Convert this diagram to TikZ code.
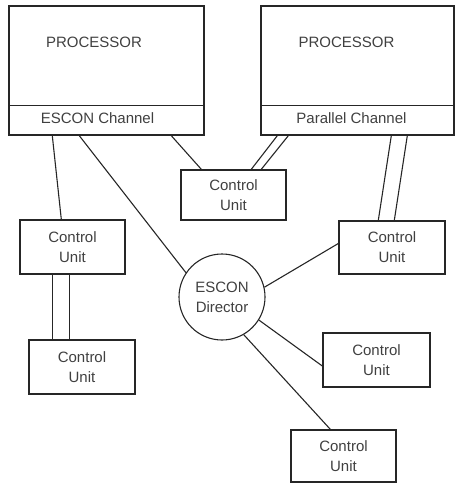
\documentclass[tikz,border=0pt]{standalone}
\usepackage{fontspec}
\setmainfont{Liberation Sans}
\usetikzlibrary{calc}
\begin{document}
\begin{tikzpicture}[x=1pt,y=-1pt,
  box/.style={draw=black!85, line width=1.4pt, inner sep=0pt},
  proc/.style={box, minimum height=129pt},
  cu/.style={box, minimum width=105pt, minimum height=53pt, align=center,
    font=\fontsize{15}{20}\selectfont, text=black!75},
  lbl/.style={font=\fontsize{15}{18}\selectfont, inner sep=0pt, text=black!75},
  link/.style={draw=black!85, line width=1.1pt}]
\useasboundingbox (0,0) rectangle (455,484);
% processors
\node[proc, minimum width=195pt] (P1) at (106.5,70.5) {};
\node[proc, minimum width=193pt] (P2) at (357.5,70.5) {};
\draw[box] ([yshift=30pt]P1.south west) -- ([yshift=30pt]P1.south east);
\draw[box] ([yshift=30pt]P2.south west) -- ([yshift=30pt]P2.south east);
\node[lbl] (P1t) at (94,42) {PROCESSOR};
\node[lbl] (P1c) at (97.5,118) {ESCON Channel};
\node[lbl] (P2t) at (346.5,42) {PROCESSOR};
\node[lbl] (P2c) at (351.5,118) {Parallel Channel};
% control units
\node[cu, minimum height=50pt] (CUc) at (233.5,195) {Control\\Unit};
\node[cu, minimum height=54pt] (CUa) at (72.5,247) {Control\\Unit};
\node[cu, minimum height=54pt, minimum width=106pt] (CUb) at (82,367) {Control\\Unit};
\node[cu, minimum width=106pt] (CUr) at (392,247.5) {Control\\Unit};
\node[cu, minimum height=54pt, minimum width=107pt] (CUm) at (376.5,360) {Control\\Unit};
\node[cu, minimum height=52pt] (CUd) at (343.5,456) {Control\\Unit};
% director
\node[draw=black!85, circle, minimum size=86pt, line width=1.1pt, inner sep=0pt,
  align=center, font=\fontsize{15}{20}\selectfont, text=black!75] (D) at (222,297) {ESCON\\Director};
% links
\draw[link] ([xshift=44pt]P1.south west) -- ([xshift=42pt]CUa.north west);
\draw[link] ([xshift=71pt]P1.south west) -- (D.146);
\draw[link] ([xshift=163pt]P1.south west) -- ([xshift=21pt]CUc.north west);
\draw[link] ([xshift=17pt]P2.south west) -- ([xshift=71pt]CUc.north west);
\draw[link] ([xshift=28pt]P2.south west) -- ([xshift=81pt]CUc.north west);
\draw[link] ([xshift=131pt]P2.south west) -- ([xshift=40pt]CUr.north west);
\draw[link] ([xshift=147pt]P2.south west) -- ([xshift=56pt]CUr.north west);
\draw[link] ([xshift=33pt]CUa.south west) -- ([xshift=24pt]CUb.north west);
\draw[link] ([xshift=50pt]CUa.south west) -- ([xshift=41pt]CUb.north west);
\draw[link] (D.13) -- ([yshift=4pt]CUr.west);
\draw[link] (D.-32) -- ([yshift=-6pt]CUm.west);
\draw[link] (D.-60) -- ([xshift=40pt]CUd.north west);
\end{tikzpicture}
\end{document}
